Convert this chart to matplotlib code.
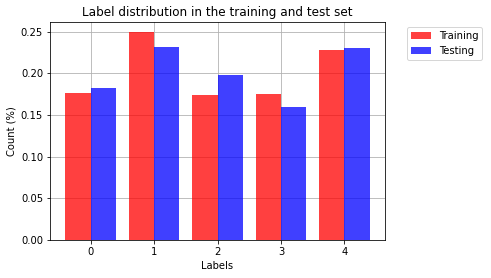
import numpy as np
import matplotlib
matplotlib.use('Agg')
import matplotlib.pyplot as plt

labels = [0, 1, 2, 3, 4]
train_frac = [0.176, 0.249, 0.174, 0.175, 0.228]
test_frac = [0.182, 0.231, 0.198, 0.160, 0.230]

x = np.arange(len(labels))
width = 0.4

fig = plt.figure(figsize=(491 / 72, 278 / 72), dpi=72)
ax = fig.add_axes([0.102, 0.137, 0.682, 0.784])
ax.set_axisbelow(True)
ax.grid(True)
#red bar left of the tick, blue bar right of it
ax.bar(x - width / 2, train_frac, width, color='red', alpha=0.75, label='Training')
ax.bar(x + width / 2, test_frac, width, color='blue', alpha=0.75, label='Testing')
ax.set_xticks(x)
ax.set_xticklabels(labels)
ax.set_xlabel('Labels')
ax.set_ylabel('Count (%)')
ax.set_title('Label distribution in the training and test set')
ax.legend(bbox_to_anchor=(1.05, 1), loc='upper left')

fig.savefig('out.png', dpi=72)
